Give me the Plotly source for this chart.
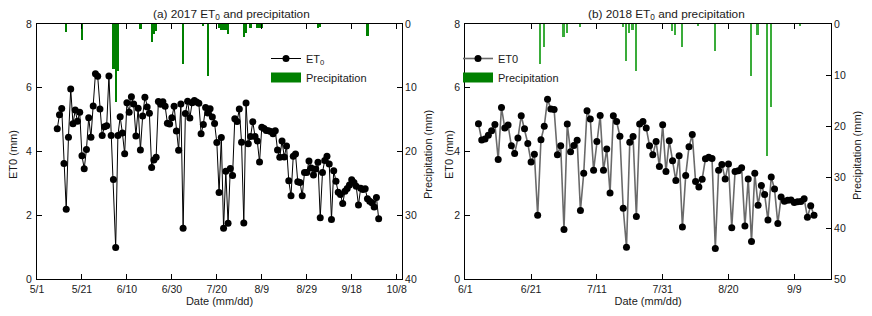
import plotly.graph_objects as go
import pandas as pd

# ---------------- data ----------------
et0_2017_start = "2017-05-10"
et0_2017 = [4.71, 5.15, 5.35, 3.62, 2.19, 4.45, 5.96, 4.87, 5.30, 4.95, 5.23, 3.87, 3.46, 4.06,
            5.06, 4.45, 5.43, 6.44, 6.36, 5.33, 4.50, 4.78, 4.81, 6.37, 4.50, 3.12, 0.99, 4.50,
            5.09, 4.58, 3.93, 5.53, 5.23, 5.72, 5.49, 4.49, 5.36, 4.05, 5.11, 5.70, 5.40, 5.20,
            3.50, 3.73, 3.82, 5.57, 5.48, 5.56, 5.42, 4.89, 4.86, 5.06, 5.42, 4.64, 4.04, 5.49,
            1.59, 5.19, 5.58, 5.05, 5.53, 5.60, 5.55, 5.51, 4.56, 4.85, 5.38, 5.21, 5.34, 5.08,
            4.88, 4.28, 2.71, 4.44, 1.59, 3.38, 1.75, 3.47, 3.25, 5.03, 4.94, 5.33, 4.29, 1.76,
            5.52, 4.24, 4.47, 4.93, 4.47, 4.33, 3.67, 4.76, 4.72, 4.66, 4.65, 4.63, 4.56, 4.65,
            4.05, 3.82, 4.33, 3.83, 4.17, 3.08, 2.61, 3.85, 3.92, 3.05, 3.03, 2.61, 3.34, 3.34,
            3.70, 3.48, 3.26, 3.45, 3.66, 1.92, 3.34, 3.72, 3.85, 3.61, 1.87, 3.40, 3.07, 2.72,
            2.65, 2.37, 2.75, 2.84, 2.95, 3.11, 3.03, 2.91, 2.32, 2.85, 2.81, 2.83, 2.52, 2.44,
            2.39, 2.26, 2.56, 1.89]

p2017_dates = ["2017-05-14", "2017-05-21", "2017-06-04", "2017-06-05", "2017-06-06", "2017-06-16",
               "2017-06-21", "2017-06-22", "2017-06-23", "2017-07-05", "2017-07-14", "2017-07-16",
               "2017-07-21", "2017-07-22", "2017-07-23", "2017-07-24", "2017-07-25", "2017-08-01",
               "2017-08-02", "2017-08-04", "2017-08-07", "2017-08-08", "2017-08-09", "2017-09-03",
               "2017-09-04", "2017-09-25"]
p2017_mm = [1.2, 2.5, 7.0, 12.2, 7.4, 0.8, 2.9, 1.6, 1.1, 6.2, 0.3, 8.1, 0.6, 0.9, 1.0, 1.0, 1.6,
            2.0, 1.4, 0.6, 0.6, 0.7, 0.7, 0.7, 0.5, 1.9]

et0_2018_start = "2018-06-05"
et0_2018 = [4.87, 4.36, 4.39, 4.51, 4.65, 4.85, 3.75, 5.38, 4.74, 4.83, 4.18, 3.94, 4.42, 5.12,
            4.71, 4.25, 3.67, 3.91, 2.00, 4.37, 4.79, 5.64, 5.33, 5.32, 3.90, 4.18, 1.55, 4.86,
            3.99, 4.19, 4.35, 2.15, 3.32, 5.28, 5.02, 3.41, 4.31, 5.13, 3.41, 4.08, 2.70, 5.12,
            4.94, 4.48, 2.22, 1.00, 4.29, 4.47, 1.96, 4.86, 4.94, 4.74, 4.18, 3.90, 4.31, 3.53,
            4.84, 3.37, 4.34, 3.71, 3.09, 3.87, 1.63, 3.25, 4.15, 4.53, 3.06, 2.89, 3.13, 3.77,
            3.82, 3.78, 0.96, 3.41, 3.59, 3.14, 3.61, 1.61, 3.37, 3.40, 3.49, 1.66, 3.14, 1.18,
            3.32, 2.31, 2.93, 2.65, 1.85, 3.20, 2.82, 1.74, 2.57, 2.44, 2.47, 2.48, 2.40, 2.42,
            2.43, 2.52, 1.94, 2.30, 2.00]

p2018_dates = ["2018-06-24", "2018-06-25", "2018-07-01", "2018-07-02", "2018-07-06", "2018-07-19",
               "2018-07-20", "2018-07-21", "2018-07-22", "2018-07-23", "2018-08-03", "2018-08-04",
               "2018-08-06", "2018-08-11", "2018-08-16", "2018-08-27", "2018-08-29", "2018-09-01",
               "2018-09-02", "2018-09-11"]
p2018_mm = [7.8, 4.6, 2.6, 1.8, 0.6, 0.6, 7.3, 1.8, 1.2, 9.3, 1.3, 2.1, 4.5, 0.4, 5.2, 10.1, 2.1,
            25.8, 16.2, 0.3]

ticks_2017 = ["2017-05-01", "2017-05-21", "2017-06-10", "2017-06-30", "2017-07-20", "2017-08-09",
              "2017-08-29", "2017-09-18", "2017-10-08"]
ticklabels_2017 = ["5/1", "5/21", "6/10", "6/30", "7/20", "8/9", "8/29", "9/18", "10/8"]
ticks_2018 = ["2018-06-01", "2018-06-21", "2018-07-11", "2018-07-31", "2018-08-20", "2018-09-09"]
ticklabels_2018 = ["6/1", "6/21", "7/11", "7/31", "8/20", "9/9"]

titles = ["(a) 2017 ET<sub>0</sub> and precipitation", "(b) 2018 ET<sub>0</sub> and precipitation"]

# ---------------- figure ----------------
d2017 = pd.date_range(et0_2017_start, periods=len(et0_2017), freq="D")
d2018 = pd.date_range(et0_2018_start, periods=len(et0_2018), freq="D")
DAY = 86400000
FONT = "Liberation Sans, Arial, sans-serif"
INK = "#1a1a1a"

fig = go.Figure()

# left panel
fig.add_trace(go.Bar(x=pd.to_datetime(p2017_dates), y=p2017_mm, xaxis="x", yaxis="y",
                     width=DAY, marker=dict(color="#008000", line=dict(width=0)),
                     showlegend=False, name="Precipitation"))
fig.add_trace(go.Scatter(x=d2017, y=et0_2017, xaxis="x", yaxis="y2", mode="lines+markers",
                         line=dict(color="black", width=1), marker=dict(color="black", size=7),
                         name="ET<sub>0</sub>", legend="legend"))
fig.add_trace(go.Scatter(x=[None], y=[None], xaxis="x", yaxis="y2", mode="lines",
                         line=dict(color="#008000", width=11), name="Precipitation", legend="legend"))

# right panel
fig.add_trace(go.Bar(x=pd.to_datetime(p2018_dates), y=p2018_mm, xaxis="x2", yaxis="y3",
                     width=DAY * 0.5, marker=dict(color="#3aac3a", line=dict(width=0)),
                     showlegend=False, name="Precipitation"))
fig.add_trace(go.Scatter(x=d2018, y=et0_2018, xaxis="x2", yaxis="y4", mode="lines+markers",
                         line=dict(color="#6a6a6a", width=1.6), marker=dict(color="black", size=7),
                         name="ET0", legend="legend2"))
fig.add_trace(go.Scatter(x=[None], y=[None], xaxis="x2", yaxis="y4", mode="lines",
                         line=dict(color="#008000", width=11), name="Precipitation", legend="legend2"))

W, H = 872, 316
ML, MR, MT, MB = 37, 41, 24, 37
PW = W - ML - MR
PH = H - MT - MB
dom1 = [0, (402 - ML) / PW]
dom2 = [(465.3 - ML) / PW, 1]


def px_x(px):
    return (px - ML) / PW


def px_y(py):
    return (H - MB - py) / PH


axis_common = dict(showline=True, linecolor="black", linewidth=1, ticks="inside", ticklen=5,
                   tickcolor="black", showgrid=False, zeroline=False,
                   tickfont=dict(size=10.5, color=INK), title_font=dict(size=11, color=INK))

ann = [
    dict(text=titles[0], x=px_x(231), y=1, yanchor="bottom", font=dict(size=11.8, color=INK)),
    dict(text=titles[1], x=px_x(666), y=1, yanchor="bottom", font=dict(size=11.8, color=INK)),
    dict(text="ET0 (mm)", x=px_x(13), y=px_y(155), textangle=-90, yanchor="middle",
         font=dict(size=11, color=INK)),
    dict(text="Precipitation (mm)", x=px_x(428), y=px_y(155), textangle=-90, yanchor="middle",
         font=dict(size=11, color=INK)),
    dict(text="ET0 (mm)", x=px_x(449), y=px_y(155), textangle=-90, yanchor="middle",
         font=dict(size=11, color=INK)),
    dict(text="Precipitation (mm)", x=px_x(857), y=px_y(155), textangle=-90, yanchor="middle",
         font=dict(size=11, color=INK)),
]
for a in ann:
    a.update(xref="paper", yref="paper", xanchor="center", showarrow=False)

fig.update_layout(
    width=W, height=H, margin=dict(l=ML, r=MR, t=MT, b=MB),
    paper_bgcolor="white", plot_bgcolor="white",
    font=dict(family=FONT, color=INK, size=11),
    bargap=0,
    xaxis=dict(axis_common, domain=dom1, anchor="y", type="date",
               range=["2017-05-01", "2017-10-10 09:00"], tickvals=ticks_2017,
               ticktext=ticklabels_2017, mirror="ticks", title=dict(text="Date (mm/dd)", standoff=2)),
    yaxis=dict(axis_common, anchor="x", side="right", range=[40, 0], tickvals=[0, 10, 20, 30, 40]),
    yaxis2=dict(axis_common, anchor="x", overlaying="y", side="left", range=[0, 8],
                tickvals=[0, 2, 4, 6, 8], ticklabelstandoff=2),
    xaxis2=dict(axis_common, domain=dom2, anchor="y3", type="date",
                range=["2018-06-01", "2018-09-20 04:00"], tickvals=ticks_2018,
                ticktext=ticklabels_2018, mirror="ticks", title=dict(text="Date (mm/dd)", standoff=2)),
    yaxis3=dict(axis_common, anchor="x2", side="right", range=[50, 0],
                tickvals=[0, 10, 20, 30, 40, 50]),
    yaxis4=dict(axis_common, anchor="x2", overlaying="y3", side="left", range=[0, 8],
                tickvals=[0, 2, 4, 6, 8], ticklabelstandoff=2),
    legend=dict(x=px_x(266), y=px_y(44), xanchor="left", yanchor="top",
                bgcolor="rgba(0,0,0,0)", font=dict(size=11, color=INK), tracegroupgap=0),
    legend2=dict(x=px_x(458), y=px_y(44), xanchor="left", yanchor="top",
                 bgcolor="rgba(0,0,0,0)", font=dict(size=11, color=INK), tracegroupgap=0),
    annotations=ann,
)

fig.write_html("out.html", config={"displayModeBar": False},
               post_script="document.body.style.margin='0';")
